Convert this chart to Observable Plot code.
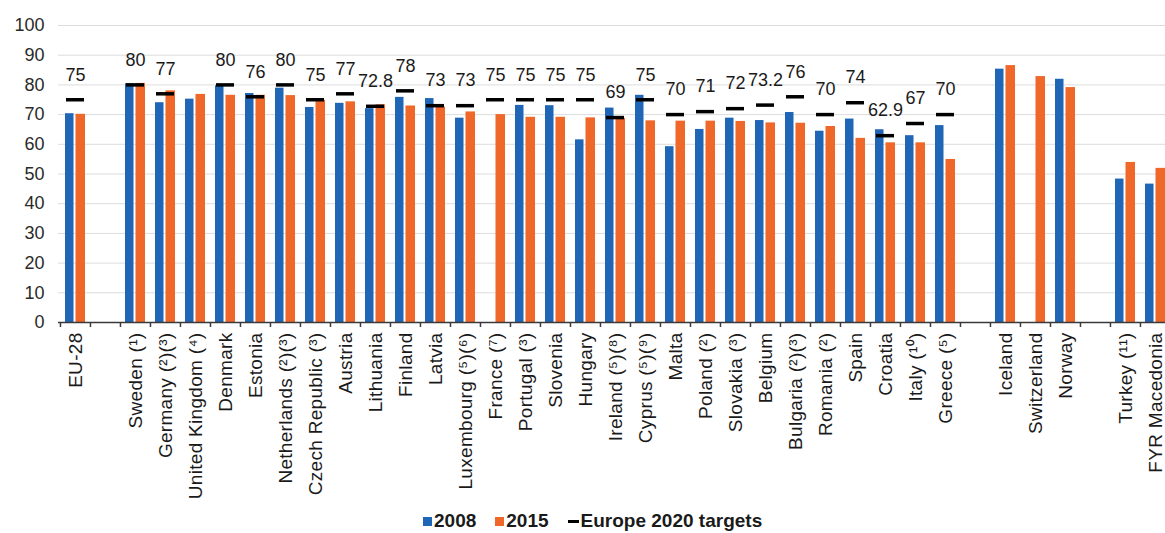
<!DOCTYPE html>
<html>
<head>
<meta charset="utf-8">
<script src="https://cdn.jsdelivr.net/npm/d3@7"></script>
<script src="https://cdn.jsdelivr.net/npm/@observablehq/plot@0.6"></script>
<style>
  html, body { margin: 0; padding: 0; background: #fff; width: 1165px; height: 533px; overflow: hidden; }
  body { font-family: "Liberation Sans", Arial, sans-serif; position: relative; }
  #chart { position: absolute; left: 0; top: 0; }
  #legend { position: absolute; left: 423px; top: 510px; display: flex; align-items: center; font-weight: bold; font-size: 19px; color: #1a1a1a; white-space: nowrap; }
  #legend .sw { display: inline-block; width: 9px; height: 9px; margin-right: 2px; }
  #legend .dash { display: inline-block; width: 11px; height: 3px; background: #000; margin-right: 2px; }
  #legend .item { display: flex; align-items: center; margin-right: 19px; }
  svg [aria-label="x-axis tick label"] text { letter-spacing: 0.3px; }
</style>
</head>
<body>
<div id="chart"></div>
<div id="legend"></div>
<script>
// Categories (blank strings of different length are the spacer slots)
const categories = [
  "EU-28", " ",
  "Sweden (¹)", "Germany (²)(³)", "United Kingdom (⁴)", "Denmark", "Estonia",
  "Netherlands (²)(³)", "Czech Republic (³)", "Austria", "Lithuania", "Finland",
  "Latvia", "Luxembourg (⁵)(⁶)", "France (⁷)", "Portugal (³)", "Slovenia", "Hungary",
  "Ireland (⁵)(⁸)", "Cyprus (⁵)(⁹)", "Malta", "Poland (²)", "Slovakia (³)", "Belgium",
  "Bulgaria (²)(³)", "Romania (²)", "Spain", "Croatia", "Italy (¹⁰)", "Greece (⁵)",
  "  ",
  "Iceland", "Switzerland", "Norway",
  "   ",
  "Turkey (¹¹)", "FYR Macedonia"
];
const values2008 = [
  70.3, null,
  80.4, 74.0, 75.2, 79.7, 77.1,
  78.9, 72.4, 73.8, 72.0, 75.8,
  75.4, 68.8, null, 73.1, 73.0, 61.5,
  72.2, 76.5, 59.2, 65.0, 68.8, 68.0,
  70.7, 64.4, 68.5, 64.9, 62.9, 66.3,
  null,
  85.3, null, 81.9,
  null,
  48.3, 46.6
];
const values2015 = [
  70.1, null,
  80.5, 78.0, 76.8, 76.5, 76.5,
  76.4, 74.8, 74.3, 73.3, 72.9,
  72.5, 70.9, 70.0, 69.1, 69.1, 68.9,
  68.7, 67.9, 67.8, 67.8, 67.7, 67.2,
  67.1, 66.0, 62.0, 60.5, 60.5, 54.9,
  null,
  86.5, 82.8, 79.1,
  null,
  53.9, 51.9
];
const targets = [
  75, null,
  80, 77, null, 80, 76,
  80, 75, 77, 72.8, 78,
  73, 73, 75, 75, 75, 75,
  69, 75, 70, 71, 72, 73.2,
  76, 70, 74, 62.9, 67, 70,
  null,
  null, null, null,
  null,
  null, null
];
const yTicks = [0, 10, 20, 30, 40, 50, 60, 70, 80, 90, 100];
const seriesNames = ["2008", "2015", "Europe 2020 targets"];

const BLUE = "#1f66b6";
const ORANGE = "#f0672a";

const table = categories.map((c, i) => ({
  cat: c, v2008: values2008[i], v2015: values2015[i], target: targets[i]
}));

const xRange = [58.3, 1170.9];
const halfSlot = (xRange[1] - xRange[0]) / categories.length / 2;

const chart = Plot.plot({
  width: 1165,
  height: 533,
  marginLeft: 58,
  marginRight: 0,
  marginTop: 25,
  marginBottom: 211,
  style: { fontFamily: "'Liberation Sans', Arial, sans-serif", fontSize: "18px", color: "#1a1a1a", background: "transparent" },
  x: { type: "band", domain: categories, range: xRange, padding: 0, label: null },
  y: { domain: [0, 100], label: null },
  marks: [
    Plot.gridY(yTicks.filter(d => d > 0), { stroke: "#dcdcdc", strokeOpacity: 1 }),
    Plot.axisY({ ticks: yTicks, tickSize: 0, tickPadding: 14, fontSize: 18, label: null, fill: "#2a2a2a" }),
    Plot.barY(table, { x: "cat", y: "v2008", fill: BLUE, insetLeft: 5, insetRight: 16.5 }),
    Plot.barY(table, { x: "cat", y: "v2015", fill: ORANGE, insetLeft: 15.5, insetRight: 5 }),
    Plot.tickY(table.filter(d => d.target != null), { x: "cat", y: "target", stroke: "#000", strokeWidth: 3.5, insetLeft: 6, insetRight: 6 }),
    Plot.text(table.filter(d => d.target != null), { x: "cat", y: "target", text: d => String(d.target), dy: -25, fontSize: 18, fill: "#1a1a1a" }),
    Plot.ruleY([0], { stroke: "#3a3a3a", strokeWidth: 1.5 }),
    Plot.axisX({ tickSize: 5, fill: "none", stroke: "#3a3a3a", strokeWidth: 1.5, dx: -halfSlot, label: null }),
    Plot.axisX({ tickSize: 0, tickPadding: 10, tickRotate: -90, fontSize: 19, fill: "#1a1a1a", label: null })
  ]
});
document.getElementById("chart").appendChild(chart);

// Legend
const legend = document.getElementById("legend");
const swatches = [BLUE, ORANGE, null];
seriesNames.forEach((name, i) => {
  const item = document.createElement("span");
  item.className = "item";
  const mark = document.createElement("span");
  if (swatches[i]) { mark.className = "sw"; mark.style.background = swatches[i]; }
  else { mark.className = "dash"; }
  item.appendChild(mark);
  const t = document.createElement("span");
  t.textContent = name;
  item.appendChild(t);
  legend.appendChild(item);
});
</script>
</body>
</html>
